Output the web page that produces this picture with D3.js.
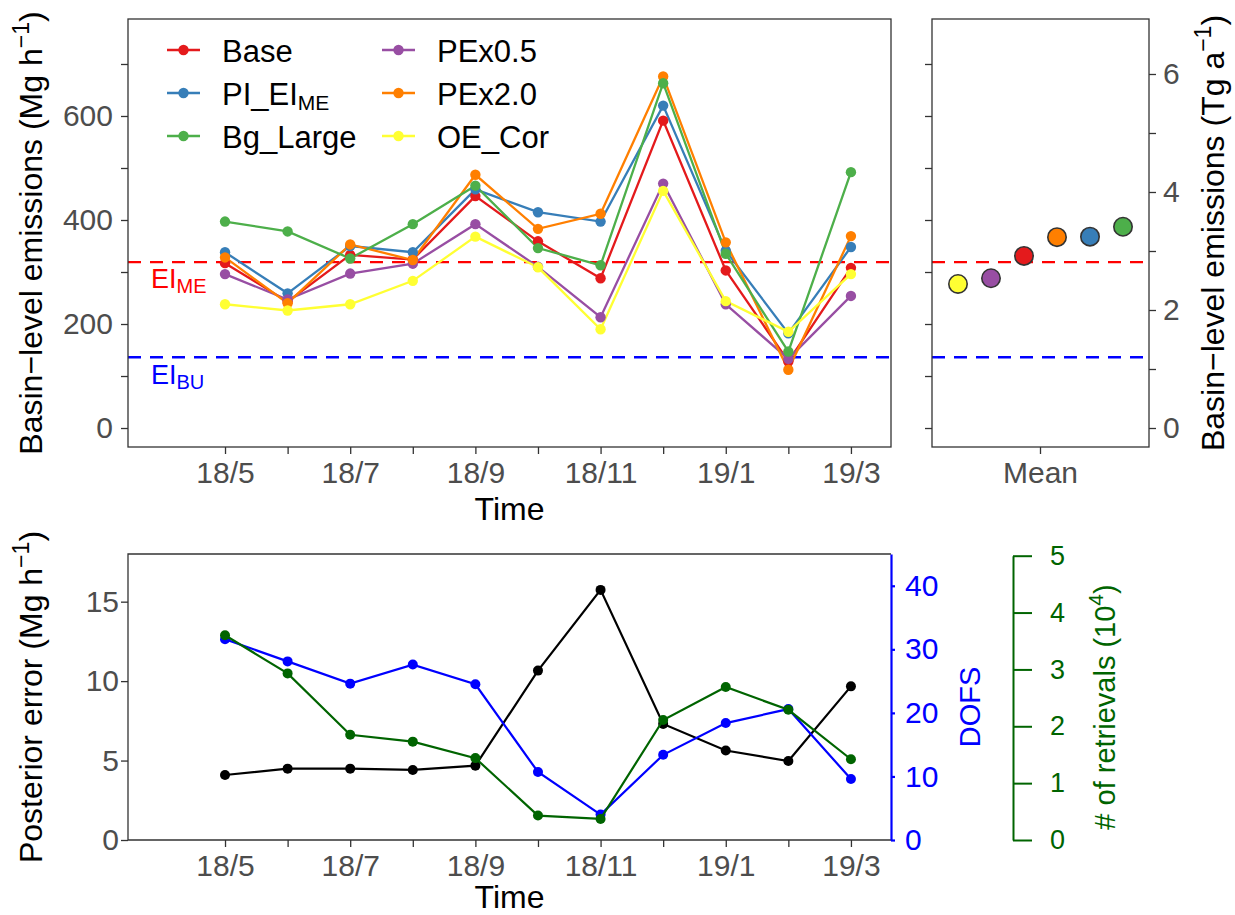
<!DOCTYPE html>
<html><head><meta charset="utf-8">
<script src="https://cdn.jsdelivr.net/npm/d3@7"></script>
<style>
body{margin:0;background:#fff}
svg{display:block;font-family:"Liberation Sans",Arial,Helvetica,sans-serif}
</style>
</head><body>
<svg id="c" width="1235" height="915"></svg>
<script>
// ---------------- data ----------------
const months = ["18/5","18/6","18/7","18/8","18/9","18/10","18/11","18/12","19/1","19/2","19/3"];
const monthLabels = ["18/5","","18/7","","18/9","","18/11","","19/1","","19/3"];
const seriesNames = ["Base","PI_EI_ME","Bg_Large","PEx0.5","PEx2.0","OE_Cor"];
const seriesColors = ["#E41A1C","#377EB8","#4DAF4A","#984EA3","#FF7F00","#FFFF33"];
const base     = [317,243,333,324,446,359,288,591,303,128,308];
const piEiMe   = [338,259,350,338,459,415,397,620,341,182,348];
const bgLarge  = [397,378,326,392,466,346,313,663,335,147,492];
const pex05    = [296,247,297,316,392,310,213,470,238,133,254];
const pex20    = [328,240,353,323,487,383,412,676,357,112,369];
const oeCor    = [238,226,238,283,368,309,190,456,244,185,296];
const meanValues = [331,368,387,288,367,277];   // Mg h-1, same order as seriesNames
const eiME = 319, eiBU = 136;
const leftTicks = [0,100,200,300,400,500,600,700];
const rightTicks = [0,1,2,3,4,5,6];
// bottom panel
const posteriorError = [4.09,4.49,4.49,4.41,4.68,10.66,15.74,7.30,5.63,4.97,9.67];
const dofs           = [31.6,28.1,24.6,27.6,24.5,10.7,4.0,13.4,18.4,20.6,9.6];
const retrievals     = [3.60,2.93,1.85,1.73,1.44,0.43,0.37,2.11,2.69,2.29,1.42];
const errTicks = [0,5,10,15];
const dofsTicks = [0,10,20,30,40];
const retTicks = [0,1,2,3,4,5];

const seriesValues = [base,piEiMe,bgLarge,pex05,pex20,oeCor];

// ---------------- setup ----------------
const svg = d3.select("#c");
const GREY = "#4D4D4D", BORDER = "#333333";
const TICKFS = 30, TITLEFS = 32;

function styleAxis(g, color, fs){
  g.selectAll("path").attr("stroke", color || BORDER).attr("stroke-width",1.3);
  g.selectAll("line").attr("stroke", color || BORDER).attr("stroke-width",1.3);
  g.selectAll("text").attr("fill", color || GREY).attr("font-size", fs||TICKFS)
    .attr("font-family",'"Liberation Sans",Arial,sans-serif');
}

// ---------------- top-left panel ----------------
const P1 = {l:128, r:891, t:19, b:447};
const x = d3.scaleLinear().domain([-1.55,10.64]).range([P1.l,P1.r]);
const y = d3.scaleLinear().domain([-36.5,786.5]).range([P1.b,P1.t]);

const gx1 = svg.append("g").attr("transform",`translate(0,${P1.b})`)
  .call(d3.axisBottom(x).tickValues(d3.range(months.length)).tickFormat(i=>monthLabels[i]).tickSize(7).tickPadding(8).tickSizeOuter(0));
gx1.select(".domain").remove();
styleAxis(gx1);
const gy1 = svg.append("g").attr("transform",`translate(${P1.l},0)`)
  .call(d3.axisLeft(y).tickValues(leftTicks).tickFormat(d=> d%200===0? d : "").tickSize(7).tickPadding(8).tickSizeOuter(0));
gy1.select(".domain").remove();
styleAxis(gy1);

// dashed reference lines
[[eiME,"#FF0000"],[eiBU,"#0000FF"]].forEach(([v,c])=>{
  svg.append("line").attr("x1",P1.l).attr("x2",P1.r).attr("y1",y(v)).attr("y2",y(v))
    .attr("stroke",c).attr("stroke-width",2.4).attr("stroke-dasharray","13,9");
});

// lines & points
const drawOrder = [0,1,3,4,2,5];
const line1 = d3.line().x((d,i)=>x(i)).y(d=>y(d));
drawOrder.forEach(k=>{
  svg.append("path").datum(seriesValues[k]).attr("d",line1)
    .attr("fill","none").attr("stroke",seriesColors[k]).attr("stroke-width",2.3);
});
drawOrder.forEach(k=>{
  svg.append("g").selectAll("circle").data(seriesValues[k]).join("circle")
    .attr("cx",(d,i)=>x(i)).attr("cy",d=>y(d)).attr("r",5.2).attr("fill",seriesColors[k]);
});

// EI labels
function subLabel(xp, yp, main, sub, color, fsMain, fsSub, shift){
  const t = svg.append("text").attr("x",xp).attr("y",yp).attr("fill",color).attr("font-size",fsMain);
  t.append("tspan").text(main);
  t.append("tspan").attr("font-size",fsSub).attr("dy",shift).text(sub);
  return t;
}
subLabel(151, y(eiME)+26, "EI", "ME", "#FF0000", 27, 20, 5);
subLabel(151, y(eiBU)+27, "EI", "BU", "#0000FF", 27, 20, 5);

// border
svg.append("rect").attr("x",P1.l).attr("y",P1.t).attr("width",P1.r-P1.l).attr("height",P1.b-P1.t)
  .attr("fill","none").attr("stroke",BORDER).attr("stroke-width",1.3);

// legend
const legCols = [167, 382];
const legRows = [50, 93, 136];
seriesNames.forEach((n,k)=>{
  const cx = legCols[Math.floor(k/3)], cy = legRows[k%3];
  svg.append("line").attr("x1",cx).attr("x2",cx+33).attr("y1",cy).attr("y2",cy)
    .attr("stroke",seriesColors[k]).attr("stroke-width",2.3);
  svg.append("circle").attr("cx",cx+16.5).attr("cy",cy).attr("r",5.2).attr("fill",seriesColors[k]);
  if(n==="PI_EI_ME"){
    subLabel(cx+55, cy+11.5, "PI_EI", "ME", "#000", 31, 21, 5);
  } else {
    svg.append("text").attr("x",cx+55).attr("y",cy+11.5).attr("font-size",31).attr("fill","#000").text(n);
  }
});

// y title left top
function rotTitle(xp, yp, parts, color, fs){
  const t = svg.append("text").attr("transform",`translate(${xp},${yp}) rotate(-90)`)
    .attr("text-anchor","middle").attr("fill",color).attr("font-size",fs);
  parts.forEach(p=>{
    const s = t.append("tspan").text(p.t);
    if(p.sup){ s.attr("font-size",fs*0.72).attr("dy",-fs*0.4); }
    if(p.down){ s.attr("dy",fs*0.4); }
  });
}
rotTitle(42, (P1.t+P1.b)/2, [{t:"Basin\u2212level emissions (Mg h"},{t:"\u22121",sup:true},{t:")",down:true}], "#000", TITLEFS);
svg.append("text").attr("x",(P1.l+P1.r)/2).attr("y",520).attr("text-anchor","middle")
  .attr("font-size",TITLEFS).attr("fill","#000").text("Time");

// ---------------- top-right panel (means) ----------------
const P2 = {l:932, r:1149, t:19, b:447};
const xm = d3.scaleBand().domain(["Mean"]).range([P2.l,P2.r]);
const order = d3.range(seriesNames.length).sort((a,b)=>meanValues[a]-meanValues[b]);
const dodge = d3.scalePoint().domain(order).range([-82.5,82.5]);
const yR = d3.scaleLinear().domain([-0.322,6.932]).range([P2.b,P2.t]);

const gx2 = svg.append("g").attr("transform",`translate(0,${P2.b})`)
  .call(d3.axisBottom(xm).tickSize(7).tickPadding(8).tickSizeOuter(0));
gx2.select(".domain").remove();
styleAxis(gx2);
const gy2 = svg.append("g").attr("transform",`translate(${P2.l},0)`)
  .call(d3.axisLeft(y).tickValues(leftTicks).tickFormat("").tickSize(7).tickSizeOuter(0));
gy2.select(".domain").remove();
styleAxis(gy2);
const gy3 = svg.append("g").attr("transform",`translate(${P2.r},0)`)
  .call(d3.axisRight(yR).tickValues(rightTicks).tickFormat(d=> d%2===0? d : "").tickSize(7).tickPadding(7).tickSizeOuter(0));
gy3.select(".domain").remove();
styleAxis(gy3);

[[eiME,"#FF0000"],[eiBU,"#0000FF"]].forEach(([v,c])=>{
  svg.append("line").attr("x1",P2.l).attr("x2",P2.r).attr("y1",y(v)).attr("y2",y(v))
    .attr("stroke",c).attr("stroke-width",2.4).attr("stroke-dasharray","13,9");
});
svg.append("g").selectAll("circle").data(order).join("circle")
  .attr("cx",k=>xm("Mean")+xm.bandwidth()/2+dodge(k))
  .attr("cy",k=>y(meanValues[k])).attr("r",9.2)
  .attr("fill",k=>seriesColors[k]).attr("stroke","#333").attr("stroke-width",1.6);
svg.append("rect").attr("x",P2.l).attr("y",P2.t).attr("width",P2.r-P2.l).attr("height",P2.b-P2.t)
  .attr("fill","none").attr("stroke",BORDER).attr("stroke-width",1.3);
rotTitle(1224, (P2.t+P2.b)/2, [{t:"Basin\u2212level emissions (Tg a"},{t:"\u22121",sup:true},{t:")",down:true}], "#000", TITLEFS);

// ---------------- bottom panel ----------------
const P3 = {l:128, r:891, t:554, b:840};
const xb = d3.scaleLinear().domain([-1.55,10.64]).range([P3.l,P3.r]);
const yE = d3.scaleLinear().domain([0,18]).range([P3.b,P3.t]);
const yD = d3.scaleLinear().domain([0,45]).range([P3.b,P3.t]);
const yN = d3.scaleLinear().domain([0,5]).range([P3.b,555.7]);

const gx3 = svg.append("g").attr("transform",`translate(0,${P3.b})`)
  .call(d3.axisBottom(xb).tickValues(d3.range(months.length)).tickFormat(i=>monthLabels[i]).tickSize(7).tickPadding(8).tickSizeOuter(0));
gx3.select(".domain").remove();
styleAxis(gx3);
const gyE = svg.append("g").attr("transform",`translate(${P3.l},0)`)
  .call(d3.axisLeft(yE).tickValues(errTicks).tickSize(7).tickPadding(2).tickSizeOuter(0));
gyE.select(".domain").remove();
styleAxis(gyE);

// border (top, left, bottom)
svg.append("path").attr("d",`M${P3.r},${P3.t}H${P3.l}V${P3.b}H${P3.r}`)
  .attr("fill","none").attr("stroke",BORDER).attr("stroke-width",1.3);

const gyD = svg.append("g").attr("transform",`translate(${P3.r},0)`)
  .call(d3.axisRight(yD).tickValues(dofsTicks).tickSize(4).tickPadding(10).tickSizeOuter(0));
styleAxis(gyD,"#0000FF");
gyD.selectAll("path,line").attr("stroke-width",2.2);

const gyN = svg.append("g").attr("transform",`translate(1013,0)`)
  .call(d3.axisRight(yN).tickValues(retTicks).tickFormat(d3.format("d")).tickSize(19).tickPadding(18).tickSizeOuter(0));
styleAxis(gyN,"#006400",27);
gyN.selectAll("path,line").attr("stroke-width",2);

const lineB = (ys)=> d3.line().x((d,i)=>xb(i)).y(d=>ys(d));
const bottomSeries = [[posteriorError,yE,"#000000"],[dofs,yD,"#0000FF"],[retrievals,yN,"#006400"]];
bottomSeries.forEach(([vals,ys,c])=>{
  svg.append("path").datum(vals).attr("d",lineB(ys)).attr("fill","none").attr("stroke",c).attr("stroke-width",2.2);
  svg.append("g").selectAll("circle").data(vals).join("circle")
    .attr("cx",(d,i)=>xb(i)).attr("cy",d=>ys(d)).attr("r",5).attr("fill",c);
});

rotTitle(42, (P3.t+P3.b)/2, [{t:"Posterior error (Mg h"},{t:"\u22121",sup:true},{t:")",down:true}], "#000", TITLEFS);
svg.append("text").attr("x",(P3.l+P3.r)/2).attr("y",908).attr("text-anchor","middle")
  .attr("font-size",TITLEFS).attr("fill","#000").text("Time");
rotTitle(980, 707, [{t:"DOFS"}], "#0000FF", 29);
rotTitle(1115, 707, [{t:"# of retrievals (10"},{t:"4",sup:true},{t:")",down:true}], "#006400", 29);
</script>
</body></html>
